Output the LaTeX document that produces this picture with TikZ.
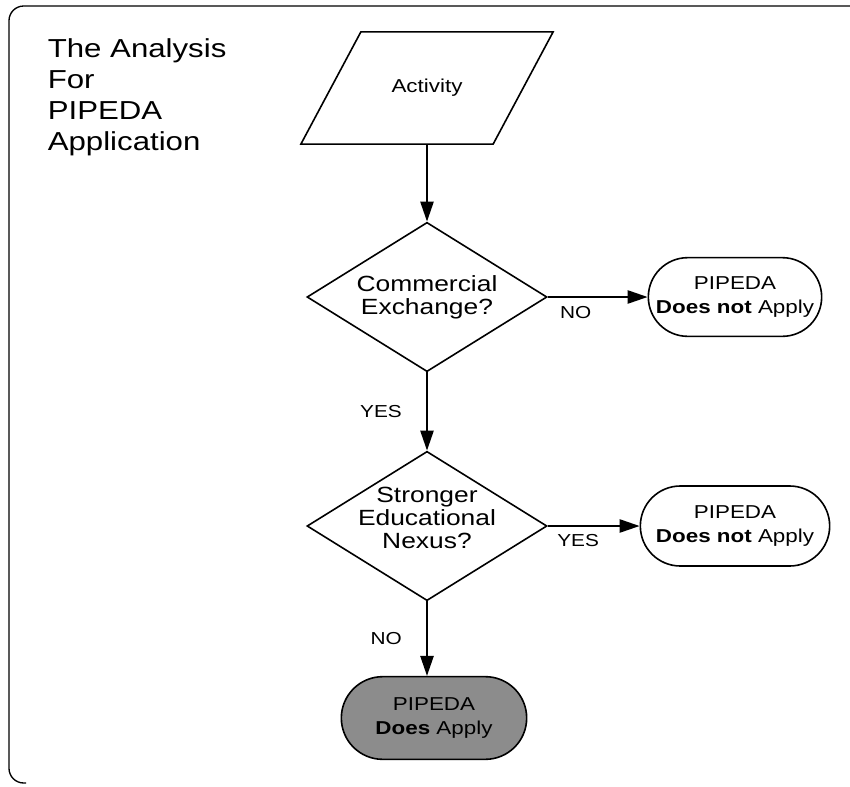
\documentclass[tikz,border=0pt]{standalone}
\usepackage{fontspec}
\setmainfont{Liberation Sans}[FakeStretch=1.2]
\usetikzlibrary{shapes.geometric,shapes.misc,arrows.meta}

\begin{document}
\begin{tikzpicture}[x=0.75pt,y=-0.75pt,line width=1.2pt,
    decision/.style={diamond,draw,minimum width=180pt,minimum height=112pt,inner sep=0pt},
    dtext/.style={align=center,inner sep=0pt,font=\fontsize{16.5}{17}\selectfont},
    outcome/.style={rounded rectangle,draw,minimum width=130pt,minimum height=59pt,inner sep=0pt,align=center,font=\fontsize{14}{18}\selectfont},
    flow/.style={-{Triangle[length=15pt,width=10pt]}},
    answer/.style={font=\fontsize{13}{15}\selectfont}]
  \useasboundingbox (0,0) rectangle (850,786);
  \draw[line width=1pt,rounded corners=11pt] (850,6) -- (9,6) -- (9,783) -- (26,783);

  \node[anchor=north west,align=left,inner sep=0pt,font=\fontsize{19.5}{23.3}\selectfont] (title) at (47,38) {The Analysis\\For\\PIPEDA\\Application};

  \node[minimum width=143pt,minimum height=83pt,inner sep=0pt,font=\fontsize{14}{16}\selectfont] (activity) at (427,88) {Activity};
  \draw ([xshift=-22.5pt]activity.south west) -- ([xshift=22.5pt]activity.north west)
     -- ([xshift=22.5pt]activity.north east) -- ([xshift=-22.5pt]activity.south east) -- cycle;
  \node[decision,label={[dtext]center:Commercial\\Exchange?}] (commercial) at (427,297) {};
  \node[outcome] (notapply1) at (735,297) {PIPEDA\\\textbf{Does not} Apply};
  \node[decision,label={[dtext,yshift=6pt]center:Stronger\\Educational\\Nexus?}] (nexus) at (427,526) {};
  \node[outcome,minimum width=142pt,minimum height=60pt] (notapply2) at (735,526) {PIPEDA\\\textbf{Does not} Apply};
  \node[outcome,fill=black!45,minimum width=139pt,minimum height=62pt] (apply) at (434,718) {PIPEDA\\\textbf{Does} Apply};

  \draw[flow] (activity) -- (commercial);
  \draw[flow] (commercial) -- node[answer,below=3pt,pos=0.28] {NO} (notapply1);
  \draw[flow] (commercial) -- node[answer,left=15pt] {YES} (nexus);
  \draw[flow] (nexus) -- node[answer,below=2pt,pos=0.33] {YES} (notapply2);
  \draw[flow] (nexus) -- node[answer,left=15pt] {NO} (nexus |- apply.north);
\end{tikzpicture}
\end{document}
